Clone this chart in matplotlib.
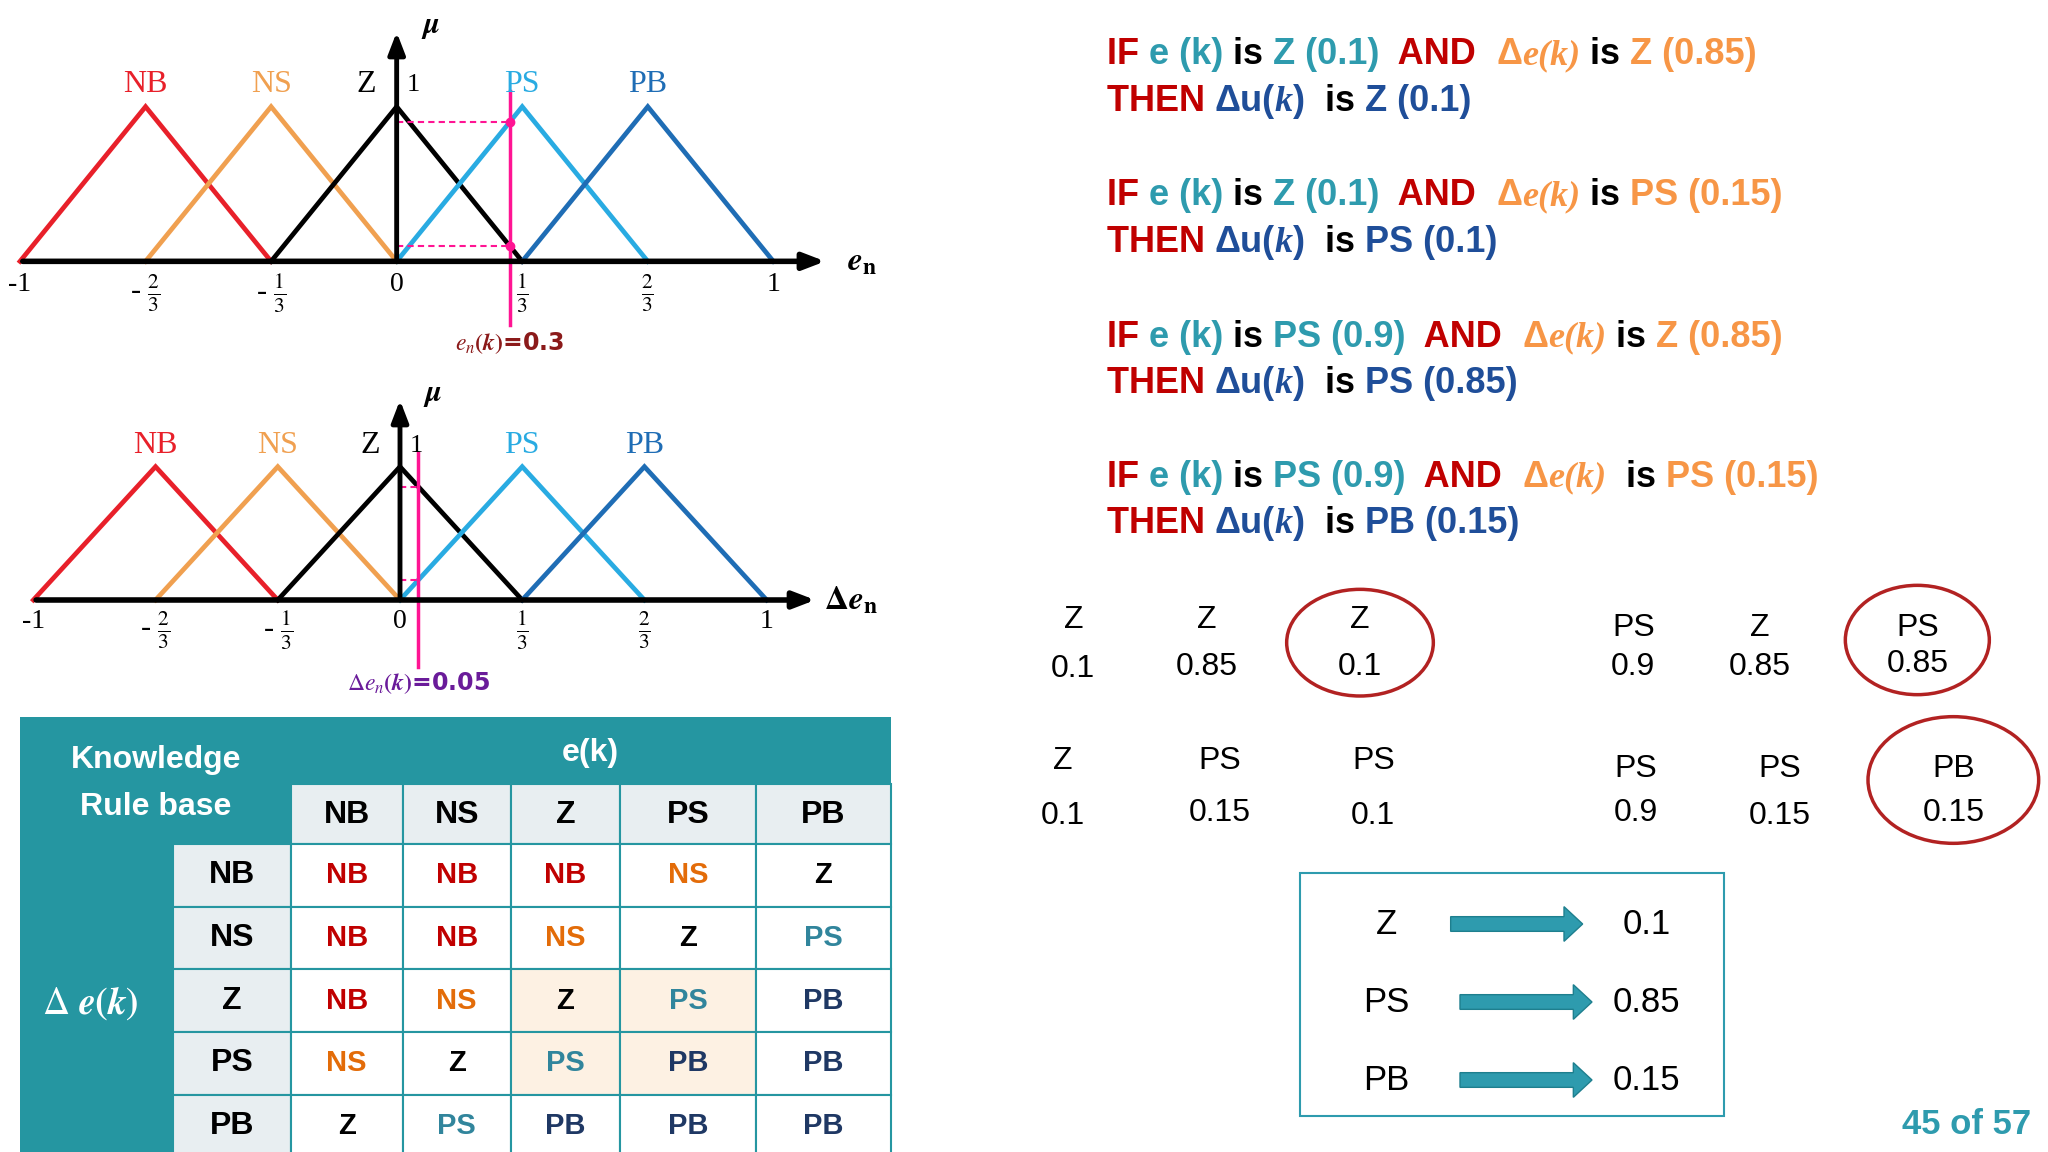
import matplotlib
matplotlib.use("Agg")
import matplotlib.pyplot as plt
from matplotlib.patches import Rectangle, Ellipse, FancyArrow

plt.rcParams["mathtext.fontset"] = "stix"
SANS = "Liberation Sans"
SERIF = "Liberation Serif"

W, H = 1536, 864  # layout grid (scaled pixel units)

# membership functions
SETS = ["NB", "NS", "Z", "PS", "PB"]
CENTERS = [-2 / 3, -1 / 3, 0.0, 1 / 3, 2 / 3]
HALF = 1 / 3
MF_COLORS = ["#E8202A", "#F0A050", "#000000", "#29ABE2", "#1F6DB5"]
TICKS = [-1, -2 / 3, -1 / 3, 0, 1 / 3, 2 / 3, 1]
TICK_LABELS = ["-1", r"- $\frac{2}{3}$", r"- $\frac{1}{3}$", "0",
               r"$\frac{1}{3}$", r"$\frac{2}{3}$", "1"]
E_VAL, E_MU = 0.3, [0.9, 0.1]
DE_VAL, DE_MU = 0.05, [0.85, 0.15]

# rule base table
ROWS = ["NB", "NS", "Z", "PS", "PB"]
COLS = ["NB", "NS", "Z", "PS", "PB"]
RULES = [["NB", "NB", "NB", "NS", "Z"],
         ["NB", "NB", "NS", "Z", "PS"],
         ["NB", "NS", "Z", "PS", "PB"],
         ["NS", "Z", "PS", "PB", "PB"],
         ["Z", "PS", "PB", "PB", "PB"]]
FIRED = [(2, 2), (2, 3), (3, 2), (3, 3)]
CELL_COLORS = {"NB": "#C00000", "NS": "#E36C09", "Z": "#000000",
               "PS": "#31859C", "PB": "#1F3864"}

# inference results
PAIRS = [("Z", "0.1", "Z", "0.85", "Z", "0.1"),
         ("PS", "0.9", "Z", "0.85", "PS", "0.85"),
         ("Z", "0.1", "PS", "0.15", "PS", "0.1"),
         ("PS", "0.9", "PS", "0.15", "PB", "0.15")]
OUT_SETS = ["Z", "PS", "PB"]
OUT_VALS = ["0.1", "0.85", "0.15"]

RED, TEAL, ORANGE, NAVY = "#C00000", "#2E9BAE", "#F79646", "#1F4E99"
TBL = "#2596A1"

fig = plt.figure(figsize=(20.48, 11.52), dpi=100)
ax = fig.add_axes([0, 0, 1, 1])
ax.set_xlim(0, W)
ax.set_ylim(H, 0)
ax.axis("off")


def mf_axes(x0, x1, y0, y1):
    a = fig.add_axes([x0 / W, 1 - y0 / H, (x1 - x0) / W, (y0 - y1) / H])
    a.set_xlim(-1, 1)
    a.set_ylim(0, 1)
    a.axis("off")
    return a


def draw_mf(a, xname, val, mus, tip_y, tip_x, dots, lab_txt, lab_col, lab_y):
    a.annotate("", xy=(tip_x, 0), xytext=(-1.0, 0), annotation_clip=False,
               arrowprops=dict(arrowstyle="-|>,head_width=0.5,head_length=1.3",
                               lw=4, color="black"))
    a.annotate("", xy=(0, tip_y), xytext=(0, 0), annotation_clip=False,
               arrowprops=dict(arrowstyle="-|>,head_width=0.5,head_length=1.3",
                               lw=3.5, color="black"))
    for name, c, col in zip(SETS, CENTERS, MF_COLORS):
        a.plot([c - HALF, c, c + HALF], [0, 1, 0], color=col, lw=3.4,
               clip_on=False, solid_joinstyle="miter")
        dx = -0.08 if name == "Z" else 0
        a.text(c + dx, 1.05, name, color=col, family=SERIF, fontsize=23,
               ha="center", va="bottom")
    a.text(0.045, 1.07, "1", family=SERIF, fontsize=19, ha="center", va="bottom")
    for t, lab in zip(TICKS, TICK_LABELS):
        a.text(t, -0.07, lab, family=SERIF, fontsize=22 if "frac" in lab else 20,
               ha="center", va="top")
    a.text(tip_x + 0.09, 0, xname, fontsize=24, fontweight="bold",
           ha="center", va="center")
    a.text(0.09, tip_y + 0.02, r"$\boldsymbol{\mu}$", fontsize=22,
           ha="center", va="center")
    a.plot([val, val], [lab_y + 0.12, 1.1], color="#FF1493", lw=2.5,
           clip_on=False)
    for m in mus:
        a.plot([0, val], [m, m], color="#FF1493", lw=1.5, ls=(0, (3, 2)),
               clip_on=False)
        if dots:
            a.plot(val, m, "o", color="#FF1493", ms=6, clip_on=False)
    a.text(val, lab_y, lab_txt, color=lab_col, fontsize=17,
           fontweight="bold", ha="center", va="center")


a1 = mf_axes(15, 580, 196, 80)
draw_mf(a1, r"$\boldsymbol{e}_\mathbf{n}$", E_VAL, E_MU, 1.5, 1.145, True,
        r"$\boldsymbol{e_n(k)}$=0.3", "#8B1A1A", -0.53)
a2 = mf_axes(25, 575, 450, 350)
draw_mf(a2, r"$\boldsymbol{\Delta e}_\mathbf{n}$", DE_VAL, DE_MU, 1.52, 1.14,
        False, r"$\Delta\boldsymbol{e_n(k)}$=0.05", "#6A1B9A", -0.62)

# ---- chained coloured rule text
fig.canvas.draw()
renderer = fig.canvas.get_renderer()
px_per_unit = fig.bbox.width / W


def chain(x, y, parts, size=26):
    for s, col, kind in parts:
        kw = dict(color=col, fontsize=size, fontweight="bold", va="baseline")
        if kind == "it":
            kw.update(family=SERIF, style="italic")
        else:
            kw.update(family=SANS)
        t = ax.text(x, y, s, **kw)
        x += t.get_window_extent(renderer).width / px_per_unit
    return x


def rule(y, e_set, e_mu, de_set, de_mu, u_set, u_mu, extra=""):
    chain(830, y, [("IF ", RED, ""), ("e (k) ", TEAL, ""), ("is ", "black", ""),
                   (f"{e_set} ({e_mu})", TEAL, ""), ("  AND  ", RED, ""),
                   ("Δ", ORANGE, ""), ("e(k)", ORANGE, "it"),
                   (" is " if not extra else "  is ", "black", ""),
                   (f"{de_set} ({de_mu})", ORANGE, "")])
    chain(830, y + 35, [("THEN ", RED, ""), ("Δu(", NAVY, ""), ("k", NAVY, "it"),
                        (")", NAVY, ""), ("  is ", "black", ""),
                        (f"{u_set} ({u_mu})", NAVY, "")])


rule(48, *PAIRS[0])
rule(154, *PAIRS[2])
rule(260, *PAIRS[1])
rule(365, *PAIRS[3], extra=" ")

# ---- min results grid
GRID_POS = [[(805, 465, 502), (905, 465, 500), (1020, 465, 500)],
            [(1225, 471, 500), (1320, 471, 500), (1438, 471, 498)],
            [(797, 571, 612), (915, 571, 610), (1030, 571, 612)],
            [(1227, 577, 610), (1335, 577, 612), (1465, 577, 610)]]
ELLIPSES = [(1020, 482, 110, 80), (1438, 480, 108, 82), None,
            (1465, 585, 128, 95)]
for p, pos, el in zip(PAIRS, GRID_POS, ELLIPSES):
    for k, (x, ys, yv) in enumerate(pos):
        ax.text(x, ys, p[2 * k], fontsize=23, family=SANS, ha="center", va="center")
        ax.text(x, yv, p[2 * k + 1], fontsize=23, family=SANS, ha="center", va="center")
    if el:
        ax.add_patch(Ellipse(el[:2], el[2], el[3], fill=False, ec="#B22222", lw=2.5))

# ---- output box
ax.add_patch(Rectangle((975, 655), 318, 182, fill=False, ec=TEAL, lw=1.5))
for i, (s, v) in enumerate(zip(OUT_SETS, OUT_VALS)):
    y = 693 + i * 58.5
    ax.text(1040, y, s, fontsize=25, family=SANS, ha="center", va="center")
    x0 = 1088 if i == 0 else 1095
    ax.add_patch(FancyArrow(x0, y, 85, 0, width=11, head_width=26,
                            head_length=14, fc=TEAL, ec="#1E7F8E", lw=1))
    ax.text(1235, y, v, fontsize=25, family=SANS, ha="center", va="center")

ax.text(1475, 843, "45 of 57", color=TEAL, fontsize=25, fontweight="bold",
        family=SANS, ha="center", va="center")

# ---- rule table
col_x = [218, 302, 383, 465, 567, 668]
row_y = [633, 680, 727, 774, 821, 868]
ax.add_patch(Rectangle((15, 538), 653, 330, fc=TBL, ec="none"))
ax.text(117, 570, "Knowledge", color="white", fontsize=23, fontweight="bold",
        family=SANS, ha="center", va="center")
ax.text(117, 605, "Rule base", color="white", fontsize=23, fontweight="bold",
        family=SANS, ha="center", va="center")
ax.text(443, 565, "e(k)", color="white", fontsize=23, fontweight="bold",
        family=SANS, ha="center", va="center")
ax.text(68, 752, r"$\Delta\ \boldsymbol{e(k)}$", color="white", fontsize=27,
        ha="center", va="center")
for j, c in enumerate(COLS):
    ax.add_patch(Rectangle((col_x[j], 588), col_x[j + 1] - col_x[j], 45,
                           fc="#E8EEF1", ec=TBL, lw=1.5))
    ax.text((col_x[j] + col_x[j + 1]) / 2, 611, c, fontsize=23, fontweight="bold",
            family=SANS, ha="center", va="center")
for i, r in enumerate(ROWS):
    ax.add_patch(Rectangle((130, row_y[i]), 88, row_y[i + 1] - row_y[i],
                           fc="#E8EEF1", ec=TBL, lw=1.5))
    ax.text(174, (row_y[i] + row_y[i + 1]) / 2, r, fontsize=23, fontweight="bold",
            family=SANS, ha="center", va="center")
    for j, v in enumerate(RULES[i]):
        fc = "#FDF1E3" if (i, j) in FIRED else "white"
        ax.add_patch(Rectangle((col_x[j], row_y[i]), col_x[j + 1] - col_x[j],
                               row_y[i + 1] - row_y[i], fc=fc, ec=TBL, lw=1.5))
        ax.text((col_x[j] + col_x[j + 1]) / 2, (row_y[i] + row_y[i + 1]) / 2, v,
                color=CELL_COLORS[v], fontsize=21, fontweight="bold",
                family=SANS, ha="center", va="center")

fig.savefig("out.png", dpi=100, facecolor="white")
